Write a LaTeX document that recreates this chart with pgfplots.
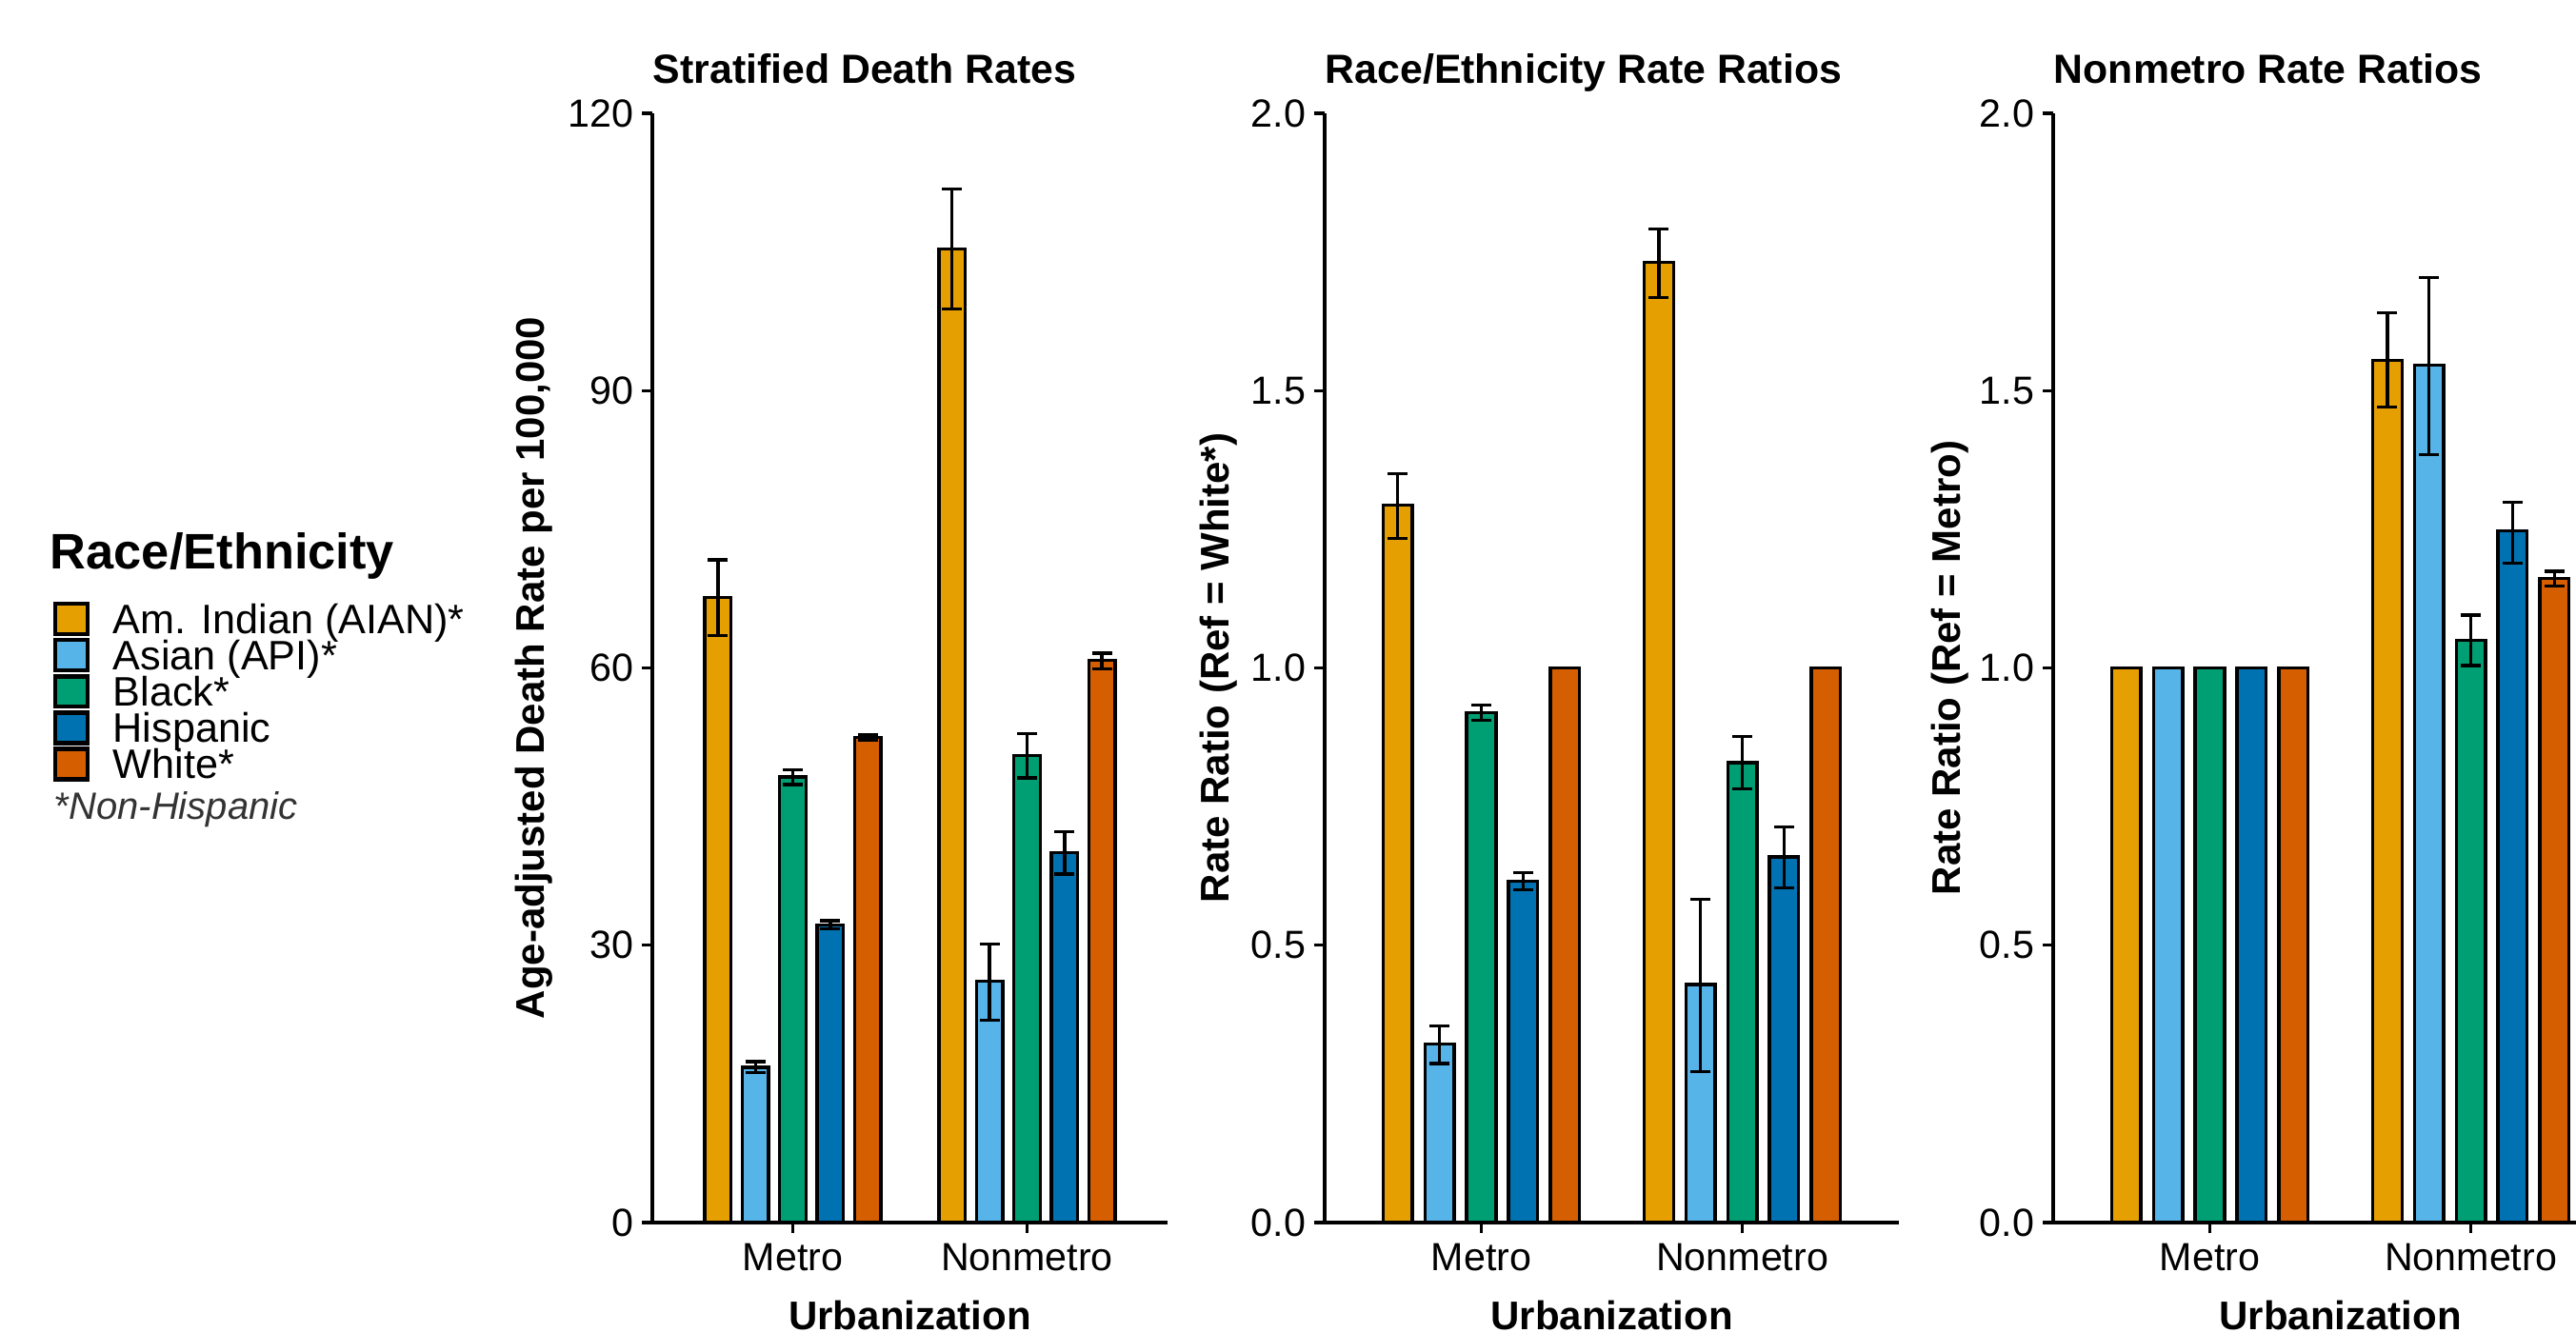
\documentclass[border=0pt]{standalone}
\usepackage{fontspec}
\setmainfont{Liberation Sans}
\usepackage{pgfplots}
\usepackage{pgfplotstable}
\pgfplotsset{compat=1.18}
\definecolor{cA}{HTML}{E69F00}
\definecolor{cB}{HTML}{56B4E9}
\definecolor{cC}{HTML}{009E73}
\definecolor{cD}{HTML}{0072B2}
\definecolor{cE}{HTML}{D55E00}

% Panel 1: stratified death rates (x, y, error plus, error minus)
\pgfplotstableread[row sep=\\]{x y ep em\\ 0.68 67.6 4.1 4.1\\ 1.68 105.3 6.5 6.5\\}\pOneA
\pgfplotstableread[row sep=\\]{x y ep em\\ 0.84 16.8 0.6 0.6\\ 1.84 26.1 4.0 4.2\\}\pOneB
\pgfplotstableread[row sep=\\]{x y ep em\\ 1.00 48.2 0.8 0.8\\ 2.00 50.5 2.4 2.4\\}\pOneC
\pgfplotstableread[row sep=\\]{x y ep em\\ 1.16 32.2 0.45 0.45\\ 2.16 40.0 2.3 2.3\\}\pOneD
\pgfplotstableread[row sep=\\]{x y ep em\\ 1.32 52.5 0.3 0.3\\ 2.32 60.8 0.8 0.9\\}\pOneE
% Panel 2: race/ethnicity rate ratios
\pgfplotstableread[row sep=\\]{x y ep em\\ 0.68 1.294 0.056 0.061\\ 1.68 1.731 0.060 0.063\\}\pTwoA
\pgfplotstableread[row sep=\\]{x y ep em\\ 0.84 0.322 0.032 0.035\\ 1.84 0.429 0.154 0.157\\}\pTwoB
\pgfplotstableread[row sep=\\]{x y ep em\\ 1.00 0.919 0.014 0.013\\ 2.00 0.829 0.047 0.047\\}\pTwoC
\pgfplotstableread[row sep=\\]{x y ep em\\ 1.16 0.615 0.016 0.015\\ 2.16 0.659 0.054 0.056\\}\pTwoD
\pgfplotstableread[row sep=\\]{x y ep em\\ 1.32 1.000 0 0\\ 2.32 1.000 0 0\\}\pTwoE
% Panel 3: nonmetro rate ratios
\pgfplotstableread[row sep=\\]{x y ep em\\ 0.68 1.000 0 0\\ 1.68 1.555 0.085 0.085\\}\pThrA
\pgfplotstableread[row sep=\\]{x y ep em\\ 0.84 1.000 0 0\\ 1.84 1.546 0.158 0.161\\}\pThrB
\pgfplotstableread[row sep=\\]{x y ep em\\ 1.00 1.000 0 0\\ 2.00 1.050 0.045 0.046\\}\pThrC
\pgfplotstableread[row sep=\\]{x y ep em\\ 1.16 1.000 0 0\\ 2.16 1.247 0.052 0.058\\}\pThrD
\pgfplotstableread[row sep=\\]{x y ep em\\ 1.32 1.000 0 0\\ 2.32 1.161 0.013 0.013\\}\pThrE

\pgfplotsset{
  panel/.style={
    scale only axis, anchor=south west, height=291.25pt,
    xmin=0.4, xmax=2.6, enlargelimits=false, clip=false,
    axis lines*=left, axis line style={line width=0.8pt, black, -},
    tick align=outside, major tick length=2.75pt,
    every tick/.style={line width=0.8pt, black},
    xtick={1,2}, xticklabels={Metro,Nonmetro},
    tick label style={font=\fontsize{10.3}{12}\selectfont, text=black},
    /pgf/number format/assume math mode=true,
    xticklabel style={anchor=base, yshift=-9.95pt},
    yticklabel style={anchor=east, inner sep=0pt, xshift=-2pt},
    title style={at={(rel axis cs:0,1)}, anchor=base west, yshift=1.75pt,
      font=\bfseries\fontsize{10.7}{12}\selectfont, inner sep=0pt},
    label style={font=\bfseries\fontsize{10.5}{12}\selectfont},
    xlabel={Urbanization},
    xlabel style={at={(axis description cs:0.5,0)}, anchor=base, yshift=-28pt, inner sep=0pt},
  },
  ratio/.style={ymin=0, ymax=2, ytick={0,0.5,1,1.5,2},
    yticklabel style={/pgf/number format/.cd, fixed, fixed zerofill, precision=1}},
  bars/.style={forget plot, ybar, bar width=0.112, bar shift=0pt, fill=#1, draw=black, line width=0.85pt,
    error bars/.cd, y dir=both, y explicit,
    error bar style={line width=0.85pt, black},
    error mark=|,
    error mark options={line width=0.85pt, black, mark size=2.6pt}},
}

\begin{document}
\begin{tikzpicture}
\path[use as bounding box] (0,0) rectangle (676.25pt,350pt);
\clip (0,0) rectangle (676.25pt,350pt);

% ---------- Panel 1 ----------
\begin{axis}[panel, at={(171.25pt,29pt)}, width=135.25pt,
  ymin=0, ymax=120, ytick={0,30,60,90,120},
  title={Stratified Death Rates},
  ylabel={Age-adjusted Death Rate per 100,000},
  ylabel style={at={(axis description cs:-0.229,0.5)}, anchor=center},
  legend image code/.code={\draw[#1] (0.55pt,-3.5pt) rectangle (8.95pt,4.45pt);},
  legend style={at={(rel axis cs:-1.1627,0.5597)}, anchor=north west, draw=none, fill=none,
    inner sep=0pt, outer sep=0pt, row sep=0pt, column sep=6.2pt,
    font=\fontsize{10.8}{12}\selectfont,
    nodes={inner sep=0pt, text height=7.9pt, text depth=1.16pt}},
  legend cell align=left,
]
\addlegendimage{fill=cA, draw=black, line width=1.1pt}
\addlegendentry{Am. Indian (AIAN)*}
\addlegendimage{fill=cB, draw=black, line width=1.1pt}
\addlegendentry{Asian (API)*}
\addlegendimage{fill=cC, draw=black, line width=1.1pt}
\addlegendentry{Black*}
\addlegendimage{fill=cD, draw=black, line width=1.1pt}
\addlegendentry{Hispanic}
\addlegendimage{fill=cE, draw=black, line width=1.1pt}
\addlegendentry{White*}
\addplot[bars=cA] table[x=x, y=y, y error plus=ep, y error minus=em] {\pOneA};
\addplot[bars=cB] table[x=x, y=y, y error plus=ep, y error minus=em] {\pOneB};
\addplot[bars=cC] table[x=x, y=y, y error plus=ep, y error minus=em] {\pOneC};
\addplot[bars=cD] table[x=x, y=y, y error plus=ep, y error minus=em] {\pOneD};
\addplot[bars=cE] table[x=x, y=y, y error plus=ep, y error minus=em] {\pOneE};
\end{axis}

% ---------- Panel 2 ----------
\begin{axis}[panel, ratio, at={(347.75pt,29pt)}, width=150.75pt,
  title={Race/Ethnicity Rate Ratios},
  ylabel={Rate Ratio (Ref = White*)},
  ylabel style={at={(axis description cs:-0.184,0.5)}, anchor=center},
]
\addplot[bars=cA] table[x=x, y=y, y error plus=ep, y error minus=em] {\pTwoA};
\addplot[bars=cB] table[x=x, y=y, y error plus=ep, y error minus=em] {\pTwoB};
\addplot[bars=cC] table[x=x, y=y, y error plus=ep, y error minus=em] {\pTwoC};
\addplot[bars=cD] table[x=x, y=y, y error plus=ep, y error minus=em] {\pTwoD};
\addplot[bars=cE] table[x=x, y=y, y error plus=ep, y error minus=em] {\pTwoE};
\end{axis}

% ---------- Panel 3 ----------
\begin{axis}[panel, ratio, at={(539pt,29pt)}, width=150.75pt,
  title={Nonmetro Rate Ratios},
  ylabel={Rate Ratio (Ref = Metro)},
  ylabel style={at={(axis description cs:-0.179,0.5)}, anchor=center},
]
\addplot[bars=cA] table[x=x, y=y, y error plus=ep, y error minus=em] {\pThrA};
\addplot[bars=cB] table[x=x, y=y, y error plus=ep, y error minus=em] {\pThrB};
\addplot[bars=cC] table[x=x, y=y, y error plus=ep, y error minus=em] {\pThrC};
\addplot[bars=cD] table[x=x, y=y, y error plus=ep, y error minus=em] {\pThrD};
\addplot[bars=cE] table[x=x, y=y, y error plus=ep, y error minus=em] {\pThrE};
\end{axis}

% legend title and footnote
\node[anchor=base west, inner sep=0pt, font=\bfseries\fontsize{13.1}{15}\selectfont] at (13pt,200.5pt) {Race/Ethnicity};
\node[anchor=base west, inner sep=0pt, text=black!80, font=\itshape\fontsize{10}{12}\selectfont] at (14pt,134.8pt) {*Non-Hispanic};
\end{tikzpicture}
\end{document}
